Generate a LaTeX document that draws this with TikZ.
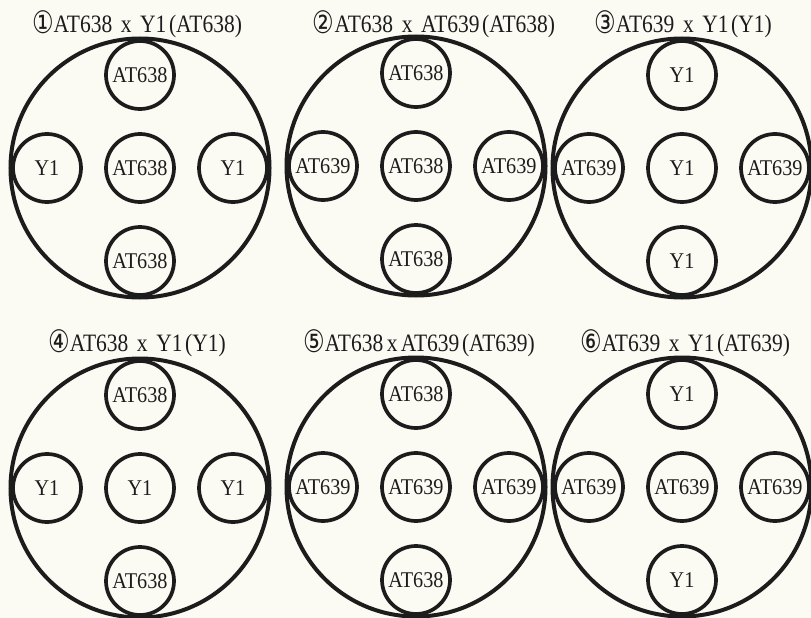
\documentclass[tikz,border=0pt]{standalone}
\usepackage{fontspec}
\usepackage{graphicx}
\setmainfont{Liberation Serif}
\newfontfamily\circfont{DejaVu Sans}
\definecolor{bg}{HTML}{FBFBF4}
\definecolor{ink}{HTML}{1C1C1C}
\newcommand\narrow[1]{\scalebox{0.9}[1]{#1}}
\newcommand\tnarrow[1]{\scalebox{0.86}[1]{#1}}
\newcommand\cnum[1]{\raisebox{-1pt}{\scalebox{0.78}[1]{\fontsize{31}{31}\circfont #1}}}
\tikzset{
  plate/.style={circle, draw=ink, line width=4pt, minimum size=259pt, inner sep=0pt},
  colony/.style={circle, draw=ink, line width=3.7pt, minimum size=68pt, inner sep=0pt,
                 font=\fontsize{22.5}{22.5}\selectfont, text=ink},
  ttl/.style={font=\fontsize{25}{25}\selectfont, text=ink, inner sep=0pt},
}
\begin{document}
\begin{tikzpicture}[x=1pt,y=-1pt]
\fill[bg] (0,0) rectangle (811,618);
\useasboundingbox (0,0) rectangle (811,618);
\foreach \n/\cx/\cy/\T/\L/\C/\R/\B in {
  1/140/168/AT638/Y1/AT638/Y1/AT638,
  2/416/166/AT638/AT639/AT638/AT639/AT638,
  3/682/168/Y1/AT639/Y1/AT639/Y1,
  4/140/488/AT638/Y1/Y1/Y1/AT638,
  5/416/487/AT638/AT639/AT639/AT639/AT638,
  6/682/487/Y1/AT639/AT639/AT639/Y1}{
  \node[plate] (p\n) at (\cx,\cy) {};
  \node[colony] (p\n t) at (\cx,\cy-93) {\narrow{\T}};
  \node[colony] (p\n l) at (\cx-93,\cy) {\narrow{\L}};
  \node[colony] (p\n c) at (\cx,\cy) {\narrow{\C}};
  \node[colony] (p\n r) at (\cx+93,\cy) {\narrow{\R}};
  \node[colony] (p\n b) at (\cx,\cy+93) {\narrow{\B}};
}
\node[ttl] (t1) at (137,24) {\cnum{①}\tnarrow{AT638\hspace{10pt}x\hspace{10pt}Y1\hspace{3pt}(AT638)}};
\node[ttl] (t2) at (434,24) {\cnum{②}\tnarrow{AT638\hspace{10pt}x\hspace{10pt}AT639\hspace{3pt}(AT638)}};
\node[ttl] (t3) at (683,24) {\cnum{③}\tnarrow{AT639\hspace{10pt}x\hspace{10pt}Y1\hspace{3pt}(Y1)}};
\node[ttl] (t4) at (137,343) {\cnum{④}\tnarrow{AT638\hspace{10pt}x\hspace{10pt}Y1\hspace{3pt}(Y1)}};
\node[ttl] (t5) at (419,343) {\cnum{⑤}\tnarrow{AT638\hspace{4pt}x\hspace{4pt}AT639\hspace{3pt}(AT639)}};
\node[ttl] (t6) at (685,343) {\cnum{⑥}\tnarrow{AT639\hspace{10pt}x\hspace{10pt}Y1\hspace{3pt}(AT639)}};
\end{tikzpicture}
\end{document}
